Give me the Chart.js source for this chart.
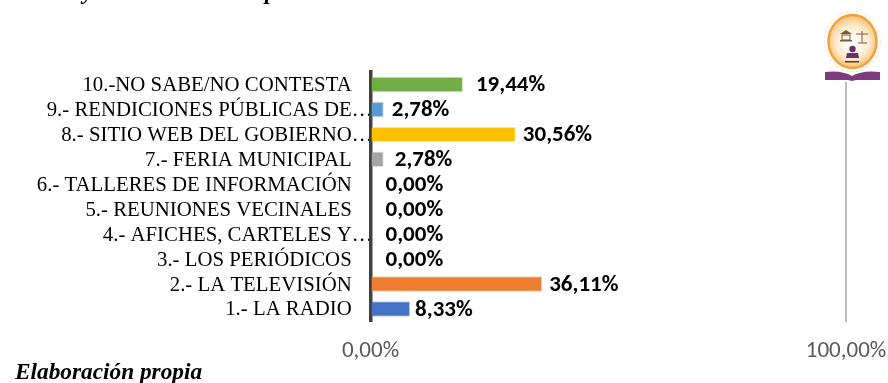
<!DOCTYPE html>
<html><head><meta charset="utf-8">
<style>html,body{margin:0;padding:0;background:#fff}#w{position:relative;width:888px;height:383px;overflow:hidden}canvas{position:absolute;left:0;top:0}
.t{position:absolute;font:italic bold 23.3px/26px "Liberation Serif";color:#000;white-space:nowrap}</style>
<script src="https://cdn.jsdelivr.net/npm/chart.js@4"></script></head>
<body><div id="w"><canvas id="c" width="888" height="383"></canvas>
<div class="t" style="left:83px;top:-22px">y</div><div class="t" style="left:265px;top:-22px">p</div>
<div class="t" style="left:15px;top:358px">Elaboración propia</div></div>
<script>
const categories=["10.-NO SABE/NO CONTESTA","9.- RENDICIONES PÚBLICAS DE…","8.- SITIO WEB DEL GOBIERNO…","7.- FERIA MUNICIPAL","6.- TALLERES DE INFORMACIÓN","5.- REUNIONES VECINALES","4.- AFICHES, CARTELES Y…","3.- LOS PERIÓDICOS","2.- LA TELEVISIÓN","1.- LA RADIO"];
const values=[19.44,2.78,30.56,2.78,0,0,0,0,36.11,8.33];
const barColors=["#70AD47","#5B9BD5","#FFC000","#A5A5A5","#264478","#9E480E","#636363","#997300","#ED7D31","#4472C4"];
const labelGaps=[13,8,7,11,15,15,15,15,7,5];
const fmt=v=>v.toFixed(2).replace('.',',')+'%';
const sans='Carlito, "Open Sans", "Liberation Sans"';
const labelPlugin={id:'lbl',afterDatasetsDraw(ch){const c=ch.ctx,m=ch.getDatasetMeta(0);c.save();c.font='bold 23px '+sans;c.fillStyle='#000';c.textBaseline='middle';
m.data.forEach((b,i)=>{c.fillText(fmt(values[i]),b.x+labelGaps[i],b.y+1)});c.restore();}};
const logoPlugin={id:'logo',afterDraw(ch){const c=ch.ctx;c.save();const x=852.5,y=41.5;
c.fillStyle='#fff';c.fillRect(820,10,64,72);
let g=c.createRadialGradient(x,y+2,3,x,y,26);g.addColorStop(0,'#FFFFFF');g.addColorStop(.6,'#FDEBCB');g.addColorStop(1,'#F6BE74');
c.fillStyle=g;c.strokeStyle='#EFA33A';c.lineWidth=2.5;c.beginPath();c.ellipse(x,y,24,26.5,0,0,7);c.fill();c.stroke();
c.strokeStyle='#F8D9A8';c.lineWidth=1;c.setLineDash([2,3]);c.beginPath();c.ellipse(x,y,28,30,0,0,7);c.stroke();c.setLineDash([]);
c.strokeStyle='#7A5A3A';c.lineWidth=1;c.fillStyle='#7A5A3A';
c.beginPath();c.moveTo(840,34);c.lineTo(846,30);c.lineTo(852,34);c.closePath();c.fill();
c.strokeRect(842,35,8,5);c.fillRect(840,40,12,1.5);
c.beginPath();c.moveTo(856,34);c.lineTo(868,34);c.moveTo(862,31);c.lineTo(862,43);c.moveTo(858,43);c.lineTo(867,43);c.stroke();
c.fillStyle='#6B2F6B';c.beginPath();c.arc(852.5,49,3.2,0,7);c.fill();
c.beginPath();c.moveTo(846,58);c.lineTo(847,53);c.lineTo(858,53);c.lineTo(859,58);c.closePath();c.fill();
c.fillStyle='#5C3A20';c.fillRect(845,61,14,1.5);
c.fillStyle='#7F3B7F';c.beginPath();c.moveTo(825,72);c.quadraticCurveTo(842,70,852,76);c.quadraticCurveTo(862,70,880,72);c.lineTo(880,80);c.lineTo(856,80);c.lineTo(852,81);c.lineTo(848,80);c.lineTo(825,80);c.closePath();c.fill();
c.restore();}};
new Chart(document.getElementById('c'),{type:'bar',data:{labels:categories,datasets:[{data:values,backgroundColor:barColors,borderColor:barColors.map(x=>x+'55'),borderWidth:1,categoryPercentage:1,barPercentage:0.62}]},
plugins:[labelPlugin,logoPlugin],
options:{indexAxis:'y',responsive:false,animation:false,
layout:{padding:{left:0,right:42,top:72,bottom:0}},
plugins:{legend:{display:false},tooltip:{enabled:false}},
scales:{
x:{min:0,max:100,afterFit(s){s.height=61.5;s.paddingLeft=0;s.paddingRight=0},ticks:{stepSize:100,maxRotation:0,align:'center',color:'#595959',font:{family:sans,size:23},padding:16,callback:v=>fmt(v)},grid:{color:'#BFBFBF',lineWidth:2,drawTicks:false},border:{display:false}},
y:{afterFit(s){s.width=370.5},ticks:{z:-1,color:'#000',autoSkip:false,padding:-2,labelOffset:1,font:{family:'"Liberation Serif"',size:20.8},callback(v){const l=this.getLabelForValue(v);return l.endsWith('…')?l:l+'\u00a0\u00a0\u00a0\u00a0'}},grid:{display:false,drawTicks:false},border:{color:'#404040',width:3.5}}
}}});
</script></body></html>
